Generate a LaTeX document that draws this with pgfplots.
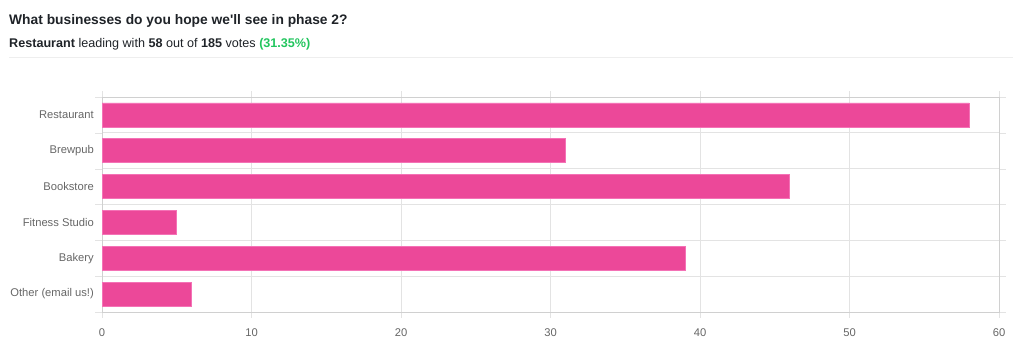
\documentclass[border=0pt]{standalone}
\usepackage{fontspec}
\setmainfont{Liberation Sans}
\usepackage{pgfplots}
\pgfplotsset{compat=1.18}
\definecolor{barpink}{HTML}{EC4899}
\definecolor{baredge}{HTML}{F472B6}
\definecolor{titlecol}{HTML}{1F2328}
\definecolor{votegreen}{HTML}{22C55E}
\definecolor{sepcol}{HTML}{EEEEEE}
\definecolor{gridcol}{HTML}{E3E3E3}
\definecolor{axiscol}{HTML}{D0D0D0}
\definecolor{labelgray}{HTML}{666666}
\begin{document}
\begin{tikzpicture}
\path[use as bounding box] (0pt,0pt) rectangle (1024pt,361pt);
\node[anchor=base west, inner sep=0, font=\fontsize{13.8}{16}\selectfont\bfseries, text=titlecol] at (9pt,336pt) {What businesses do you hope we\textquotesingle ll see in phase 2?};
\node[anchor=base west, inner sep=0, font=\fontsize{12.6}{14}\selectfont, text=titlecol] at (9pt,313pt) {\textbf{Restaurant} leading with \textbf{58} out of \textbf{185} votes \textcolor{votegreen}{\textbf{(31.35\%)}}};
\draw[sepcol, line width=1pt] (9pt,303pt) -- (1013pt,303pt);
\begin{axis}[
  at={(102pt,49pt)}, anchor=south west,
  scale only axis, width=897pt, height=215pt,
  xbar, bar width=24pt,
  xmin=0, xmax=60, ymin=-0.5, ymax=5.5,
  y dir=reverse,
  ytick={0,...,5},
  yticklabels={Restaurant,Brewpub,Bookstore,Fitness Studio,Bakery,Other (email us!)},
  minor ytick={-0.5,0.5,...,5.5},
  yminorgrids, xmajorgrids,
  xtick={0,10,...,60},
  tick align=outside,
  major tick length=6pt, minor tick length=7pt,
  major y tick style={draw=none},
  minor y tick style={draw=gridcol},
  major x tick style={draw=gridcol},
  grid style={draw=gridcol, line width=0.8pt},
  minor grid style={draw=gridcol, line width=0.8pt},
  axis line style={draw=axiscol, line width=0.8pt},
  ticklabel style={font=\fontsize{11.2}{13}\selectfont, text=labelgray},
  /pgf/number format/assume math mode=true,
  yticklabel style={inner sep=0pt, xshift=-2pt},
  xticklabel style={inner sep=0pt, yshift=-10pt},
]
\addplot[fill=barpink, draw=baredge, line width=0.6pt] coordinates {(58,0) (31,1) (46,2) (5,3) (39,4) (6,5)};
\end{axis}
\end{tikzpicture}
\end{document}
